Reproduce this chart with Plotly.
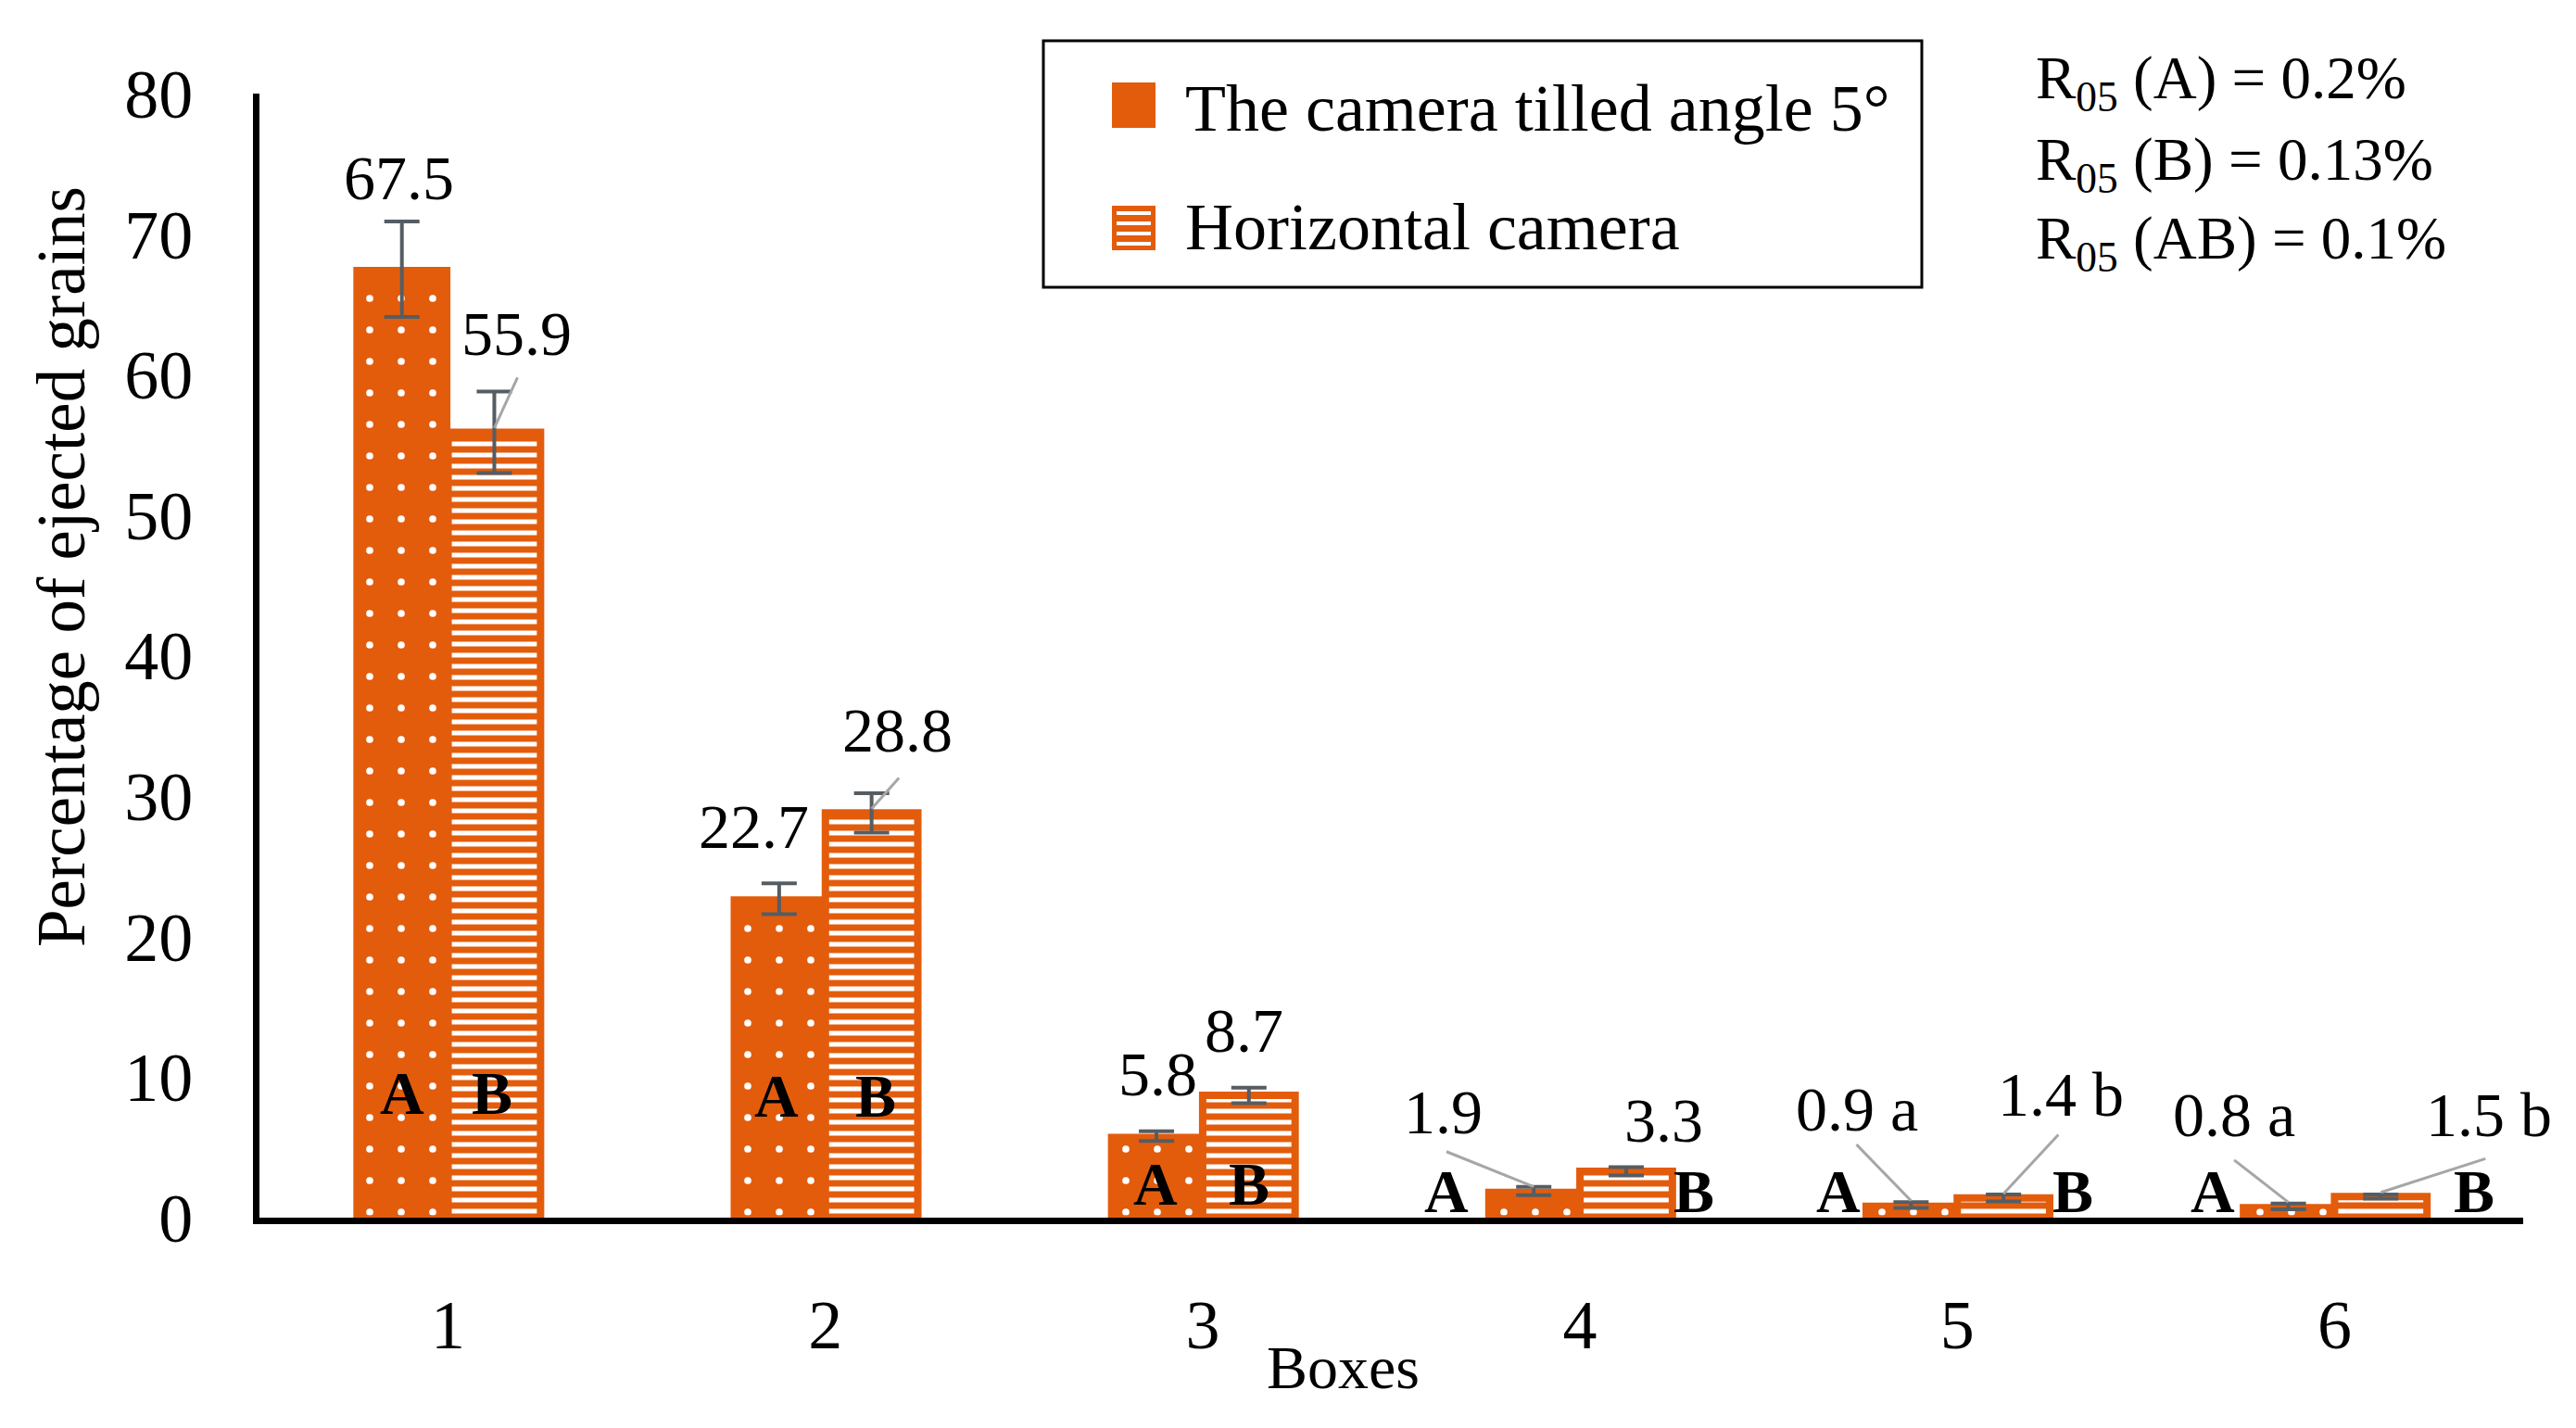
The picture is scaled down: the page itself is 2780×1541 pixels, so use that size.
import plotly.graph_objects as go

# ---------------- data ----------------
boxes = [1, 2, 3, 4, 5, 6]
tick_labels = ["1", "2", "3", "4", "5", "6"]
y_ticks = [0, 10, 20, 30, 40, 50, 60, 70, 80]

tilted_vals = [67.5, 22.7, 5.8, 1.9, 0.9, 0.8]
tilted_err = [3.4, 1.1, 0.35, 0.3, 0.2, 0.2]
tilted_suffix = ["", "", "", "", " a", " a"]
tilted_letter = ["A", "A", "A", "A", "A", "A"]

horiz_vals = [55.9, 28.8, 8.7, 3.3, 1.4, 1.5]
horiz_err = [2.9, 1.4, 0.55, 0.3, 0.25, 0.15]
horiz_suffix = ["", "", "", "", " b", " b"]
horiz_letter = ["B", "B", "B", "B", "B", "B"]

series_names = ["The camera tilled angle 5°", "Horizontal camera"]
r05_lines = ["R<sub>05</sub> (A) = 0.2%", "R<sub>05</sub> (B) = 0.13%", "R<sub>05</sub> (AB) = 0.1%"]

# ---------------- style / positions ----------------
ORANGE = "#E35C0C"
ERR = "#555D63"
LEADER = "#A6A6A6"
FONT = "Liberation Serif"
W, H = 2780, 1541
ML, MR, MT, MB = 280, 57, 101, 227
BARW = 0.245  # each bar width in category units (bargap 0.51)

# label placement: (dx from category centre, y in data units)
tilted_lab_pos = [(-0.13, 74.0), (-0.19, 27.8), (-0.12, 10.2), (-0.363, 7.5), (-0.267, 7.7), (-0.266, 7.3)]
horiz_lab_pos = [(0.182, 62.9), (0.19, 34.7), (0.11, 13.3), (0.222, 6.9), (0.274, 8.8), (0.41, 7.3)]
# leader lines: start point of the line (dx, y); None = no leader
tilted_leader = [None, None, None, (-0.354, 4.7), (-0.267, 5.2), (-0.266, 4.1)]
horiz_leader = [(0.184, 59.8), (0.195, 31.3), None, None, (0.268, 5.9), (0.40, 4.2)]
# letters A / B: (dx, y)
tilted_letter_pos = [(-0.123, 8.9), (-0.129, 8.7), (-0.125, 2.4), (-0.354, 1.9), (-0.315, 1.9), (-0.322, 1.9)]
horiz_letter_pos = [(0.117, 8.9), (0.134, 8.7), (0.123, 2.4), (0.303, 1.9), (0.307, 1.9), (0.371, 1.9)]

PW = W - ML - MR
PH = H - MT - MB


def px(xp):
    return (xp - ML) / PW


def py(yp):
    return (H - MB - yp) / PH


fig = go.Figure()

fig.add_trace(go.Bar(
    x=boxes, y=tilted_vals, name=series_names[0], showlegend=False,
    marker=dict(color=ORANGE, line=dict(color=ORANGE, width=5),
                pattern=dict(shape=".", fgcolor="white", bgcolor=ORANGE,
                             fillmode="replace", size=34, solidity=0.04)),
    error_y=dict(type="data", array=tilted_err, visible=True, color=ERR, thickness=4, width=19),
))
fig.add_trace(go.Bar(
    x=boxes, y=horiz_vals, name=series_names[1], showlegend=False,
    marker=dict(color=ORANGE, line=dict(color=ORANGE, width=8),
                pattern=dict(shape="-", fgcolor="white", bgcolor=ORANGE,
                             fillmode="replace", size=12, solidity=0.42)),
    error_y=dict(type="data", array=horiz_err, visible=True, color=ERR, thickness=4, width=19),
))

annotations = []
shapes = []

offsets = [-BARW / 2, BARW / 2]
for s, (vals, suf, lab_pos, leader, letters, let_pos) in enumerate([
    (tilted_vals, tilted_suffix, tilted_lab_pos, tilted_leader, tilted_letter, tilted_letter_pos),
    (horiz_vals, horiz_suffix, horiz_lab_pos, horiz_leader, horiz_letter, horiz_letter_pos),
]):
    for i, b in enumerate(boxes):
        v = vals[i]
        dx, ly = lab_pos[i]
        annotations.append(dict(x=b + dx, y=ly, xref="x", yref="y", text=f"{v}{suf[i]}",
                                xanchor="center", yanchor="middle",
                                showarrow=False, font=dict(family=FONT, size=68, color="black")))
        if leader[i] is not None:
            ldx, lly = leader[i]
            shapes.append(dict(type="line", xref="x", yref="y", x0=b + ldx, y0=lly,
                               x1=b + offsets[s], y1=v + 0.3,
                               line=dict(color=LEADER, width=3)))
        ldx, lly = let_pos[i]
        annotations.append(dict(x=b + ldx, y=lly, xref="x", yref="y", text=f"<b>{letters[i]}</b>",
                                xanchor="center", yanchor="middle",
                                showarrow=False, font=dict(family=FONT, size=66, color="black")))

# custom legend
shapes.append(dict(type="rect", xref="paper", yref="paper", x0=px(1126), x1=px(2074), y0=py(310), y1=py(44),
                   line=dict(color="black", width=3), fillcolor="white", layer="below"))
shapes.append(dict(type="rect", xref="paper", yref="paper", x0=px(1200), x1=px(1247), y0=py(138), y1=py(89),
                   line=dict(width=0), fillcolor=ORANGE))
shapes.append(dict(type="rect", xref="paper", yref="paper", x0=px(1200), x1=px(1247), y0=py(270), y1=py(222),
                   line=dict(width=0), fillcolor=ORANGE))
for k in range(4):
    yy = 230 + k * 11
    shapes.append(dict(type="line", xref="paper", yref="paper", x0=px(1205), x1=px(1242), y0=py(yy), y1=py(yy),
                       line=dict(color="white", width=4)))
annotations.append(dict(x=px(1277), y=py(117), xref="paper", yref="paper", xanchor="left", yanchor="middle",
                        text=series_names[0], showarrow=False, font=dict(family=FONT, size=72, color="black")))
annotations.append(dict(x=px(1277), y=py(245), xref="paper", yref="paper", xanchor="left", yanchor="middle",
                        text=series_names[1], showarrow=False, font=dict(family=FONT, size=72, color="black")))

for k, (t, yp) in enumerate(zip(r05_lines, [89, 177, 262])):
    annotations.append(dict(x=px(2195), y=py(yp), xref="paper", yref="paper", xanchor="left", yanchor="middle",
                            text=t, showarrow=False, font=dict(family=FONT, size=65, color="black")))

# axis titles
annotations.append(dict(x=px(66), y=py(612), xref="paper", yref="paper", text="Percentage of ejected grains",
                        xanchor="center", yanchor="middle",
                        textangle=-90, showarrow=False, font=dict(family=FONT, size=73, color="black")))
annotations.append(dict(x=px(1449), y=py(1475), xref="paper", yref="paper", text="Boxes",
                        xanchor="center", yanchor="middle",
                        showarrow=False, font=dict(family=FONT, size=66, color="black")))

fig.update_layout(
    width=W, height=H,
    margin=dict(l=ML, r=MR, t=MT, b=MB, pad=0),
    paper_bgcolor="white", plot_bgcolor="white",
    barmode="group", bargap=0.51, bargroupgap=0,
    font=dict(family=FONT, size=74, color="black"),
    shapes=shapes, annotations=annotations,
    xaxis=dict(range=[0.5, 6.5], tickvals=boxes, ticktext=tick_labels, showgrid=False, zeroline=False,
               showline=True, linecolor="black", linewidth=7,
               ticks="outside", ticklen=45, tickcolor="rgba(0,0,0,0)",
               tickfont=dict(family=FONT, size=74, color="black")),
    yaxis=dict(range=[0, 80], tickvals=y_ticks, showgrid=False, zeroline=False,
               showline=True, linecolor="black", linewidth=7,
               ticks="outside", ticklen=50, tickcolor="rgba(0,0,0,0)",
               tickfont=dict(family=FONT, size=74, color="black")),
)

fig.write_html("out.html", config={"displayModeBar": False},
               post_script="document.body.style.margin='0';")
